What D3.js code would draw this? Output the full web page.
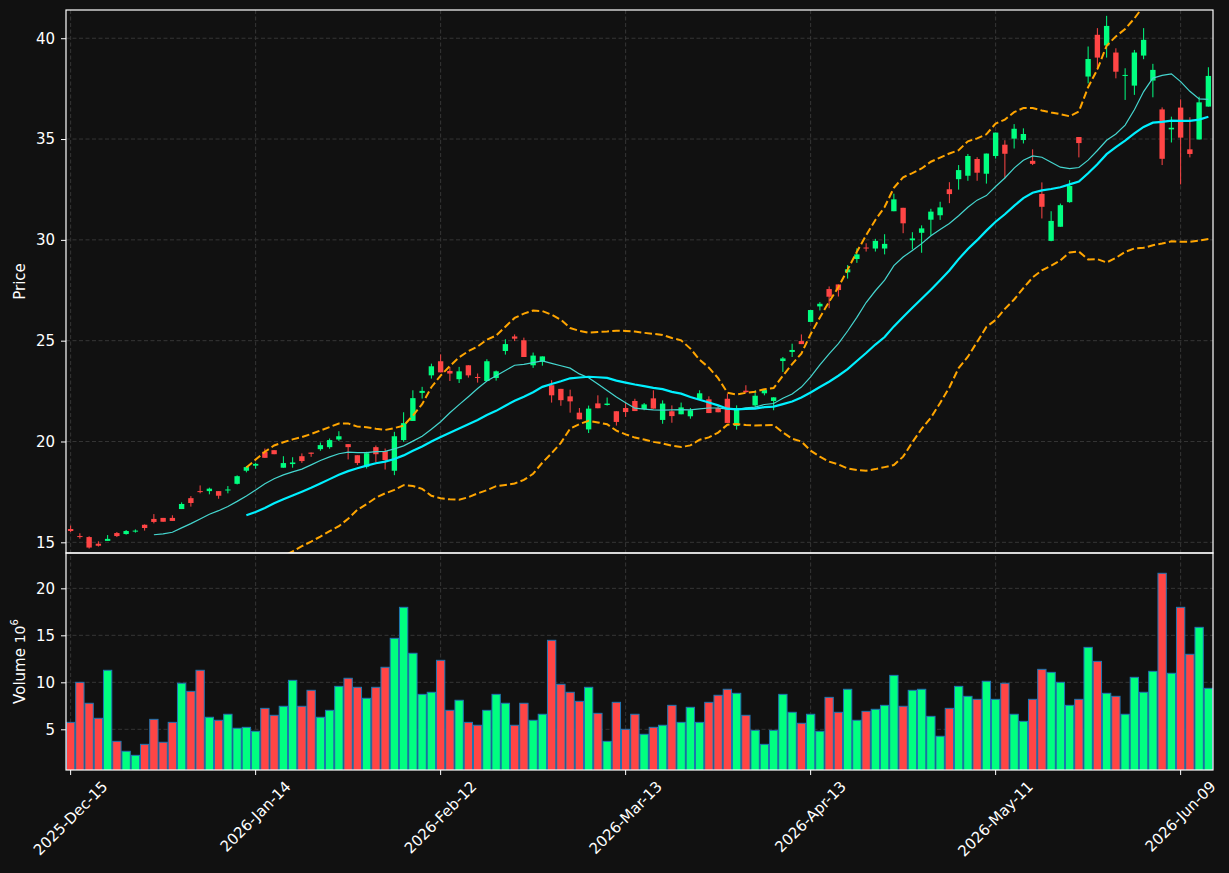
<!DOCTYPE html>
<html>
<head>
<meta charset="utf-8">
<script src="https://cdn.jsdelivr.net/npm/d3@7"></script>
<style>
  body { margin: 0; background: #111111; }
  text { font-family: "DejaVu Sans", sans-serif; }
</style>
</head>
<body>
<div id="chart"></div>
<script>
// daily bars, index 0 = 2025-Dec-15
const opens = [15.66,15.31,15.26,14.93,15.07,15.46,15.41,15.53,15.87,16.16,16.21,16.21,16.65,17.19,17.54,17.54,17.54,17.57,17.90,18.55,
  18.80,19.49,19.57,18.70,18.88,19.27,19.45,19.62,19.72,20.10,19.87,19.32,18.75,19.72,19.52,18.55,20.07,21.02,22.41,23.28,
  23.98,23.50,23.09,23.78,23.20,23.00,23.15,24.49,25.21,25.02,23.78,23.96,22.79,22.61,22.24,21.43,20.60,21.89,21.81,21.50,
  21.66,22.01,21.61,22.14,21.07,21.50,21.35,21.25,22.09,22.09,21.66,22.12,20.77,22.52,21.79,22.39,22.01,23.99,24.44,24.98,
  25.93,26.70,27.56,27.79,28.39,29.05,29.62,29.57,29.57,31.42,31.59,29.98,30.35,31.00,31.22,32.51,33.01,33.18,34.01,33.28,
  34.16,34.72,35.02,34.95,33.92,32.28,29.95,30.65,31.87,35.10,38.10,40.17,39.64,39.29,38.13,37.65,39.14,37.90,36.47,35.48,
  36.56,34.49,34.98,36.61];
const highs = [15.83,15.45,15.30,15.05,15.36,15.51,15.61,15.64,15.89,16.40,16.21,16.34,16.98,17.29,17.82,17.71,17.54,17.79,18.32,18.78,
  18.94,19.65,19.57,19.27,19.22,19.41,19.45,19.95,20.15,20.51,19.87,19.32,19.49,19.80,19.65,20.48,21.45,22.54,22.71,23.86,
  24.32,23.70,23.70,23.78,23.37,24.08,23.52,25.07,25.31,25.15,24.41,24.22,23.04,22.61,22.57,21.66,21.78,22.29,22.18,21.50,
  21.91,22.12,21.91,22.54,22.04,21.79,21.93,21.66,22.54,22.24,21.79,22.37,21.79,22.79,22.54,22.55,22.19,24.19,24.85,25.31,
  26.52,26.91,27.69,27.79,28.75,29.58,29.83,30.05,30.28,32.29,31.59,30.38,30.72,31.54,31.89,32.86,33.71,34.26,34.10,34.28,
  35.32,34.94,35.74,35.53,34.49,32.85,31.42,31.80,32.96,35.10,39.59,40.50,41.11,39.50,38.51,39.42,40.50,38.73,36.57,36.11,
  36.97,36.08,37.10,38.56];
const lows = [15.51,15.18,14.69,14.79,15.07,15.26,15.38,15.48,15.58,15.94,16.02,16.06,16.65,16.77,17.43,17.38,17.16,17.43,17.87,18.47,
  18.65,19.19,19.37,18.70,18.70,18.94,19.24,19.54,19.64,20.03,19.11,18.83,18.66,18.98,18.61,18.33,19.98,21.02,22.13,23.12,
  23.43,23.00,22.90,23.17,22.92,23.00,23.02,24.31,24.98,24.19,23.65,23.76,21.93,21.77,21.43,21.10,20.42,21.65,21.78,20.79,
  21.22,21.51,21.55,21.63,20.88,20.93,21.35,21.13,22.09,21.41,21.45,20.92,20.59,22.40,21.71,22.29,21.55,23.45,24.19,24.83,
  25.93,26.50,26.61,27.19,28.08,28.86,29.42,29.42,29.28,31.42,30.33,29.53,29.36,30.22,30.99,31.82,32.49,32.93,32.93,32.79,
  34.03,33.05,34.53,34.78,33.71,31.06,29.93,30.65,31.84,34.09,37.76,38.43,39.04,38.01,36.94,37.19,38.96,37.07,33.71,34.83,
  32.75,34.09,34.98,36.61];
const closes = [15.56,15.28,14.74,14.83,15.17,15.31,15.56,15.58,15.71,16.01,16.02,16.06,16.90,16.95,17.49,17.66,17.31,17.62,18.28,18.73,
  18.89,19.19,19.37,18.93,18.96,19.03,19.39,19.82,20.07,20.26,19.72,18.93,19.42,19.37,19.08,20.26,20.91,22.15,22.51,23.73,
  23.43,23.37,23.48,23.28,23.15,23.98,23.48,24.83,25.10,24.19,24.26,24.22,22.29,22.05,21.99,21.10,21.63,21.65,21.88,20.97,
  21.46,21.51,21.84,21.63,21.88,21.26,21.69,21.55,22.39,21.41,21.45,20.92,21.66,22.45,22.27,22.55,22.19,24.12,24.54,24.83,
  26.52,26.83,27.18,27.51,28.54,29.28,29.58,29.95,29.80,32.01,30.82,30.07,30.57,31.40,31.61,32.27,33.46,34.16,33.33,34.28,
  35.32,34.27,35.51,35.25,33.77,31.64,30.94,31.72,32.67,34.80,38.97,39.04,40.61,38.34,38.18,39.29,39.92,38.43,34.02,35.56,
  35.07,34.26,36.82,38.13];
// volume in millions
const volumes = [5.74,10.00,7.77,6.17,11.28,3.72,2.66,2.23,3.40,6.06,3.62,5.74,9.90,9.04,11.28,6.28,5.96,6.60,5.11,5.21,
  4.79,7.23,6.49,7.45,10.21,7.45,9.15,6.28,7.02,9.57,10.43,9.47,8.30,9.47,11.60,14.68,17.98,13.09,8.72,8.94,
  12.34,7.02,8.09,5.74,5.43,7.02,8.72,7.77,5.43,7.77,5.96,6.60,14.47,9.79,8.94,7.98,9.47,6.70,3.72,7.87,
  5.00,6.60,4.47,5.21,5.43,7.55,5.74,7.34,5.74,7.87,8.62,9.26,8.83,6.49,4.89,3.40,4.89,8.72,6.81,5.64,
  6.60,4.79,8.40,6.81,9.26,5.96,6.91,7.13,7.55,10.74,7.45,9.15,9.26,6.38,4.26,7.23,9.57,8.51,8.19,10.11,
  8.19,9.90,6.60,5.85,8.19,11.38,11.06,10.00,7.55,8.19,13.72,12.23,8.83,8.51,6.60,10.53,8.94,11.17,21.60,10.96,
  17.98,12.98,15.85,9.36];

const tickIdx = [0, 20, 40, 60, 80, 100, 120];
const tickLabels = ["2025-Dec-15", "2026-Jan-14", "2026-Feb-12", "2026-Mar-13", "2026-Apr-13", "2026-May-11", "2026-Jun-09"];
const priceTicks = [15, 20, 25, 30, 35, 40];
const volTicks = [5, 10, 15, 20];

const W = 1229, H = 873;
const padL = 66, padR = 1213, padT = 10, midY = 553, padB = 770;
const upColor = "#00ff80", downColor = "#ff4545";
const fs = 15;

const n = closes.length;
const bars = d3.range(n).map(i => ({
    i: i, o: opens[i], h: highs[i], l: lows[i], c: closes[i], v: volumes[i]
}));

// rolling mean / bollinger from closes
function rolling(win, fn) {
    const out = [];
    for (let i = win - 1; i < n; i++) {
        out.push({i: i, v: fn(closes.slice(i - win + 1, i + 1))});
    }
    return out;
}
const ma10 = rolling(10, a => d3.mean(a));
const ma20 = rolling(20, a => d3.mean(a));
const bbUp = rolling(20, a => d3.mean(a) + 2 * d3.deviation(a));
const bbLo = rolling(20, a => d3.mean(a) - 2 * d3.deviation(a));

const svg = d3.select('#chart').append("svg")
    .attr("width", W)
    .attr("height", H);

svg.append("rect").attr("width", W).attr("height", H).attr("fill", "#111111");

const x = d3.scaleLinear().domain([-0.5, n - 0.5]).range([padL, padR]);
const yP = d3.scaleLinear().domain([14.47, 41.40]).range([midY, padT]);
const yV = d3.scaleLinear().domain([0.67, 23.76]).range([padB, midY]);
const step = x(1) - x(0);

const defs = svg.append("defs");
defs.append("clipPath").attr("id", "clipP").append("rect")
    .attr("x", padL).attr("y", padT).attr("width", padR - padL).attr("height", midY - padT);
defs.append("clipPath").attr("id", "clipV").append("rect")
    .attr("x", padL).attr("y", midY).attr("width", padR - padL).attr("height", padB - midY);

// grids
const grid = svg.append("g").attr("stroke", "#3a3a3a").attr("stroke-width", 0.9).attr("stroke-dasharray", "4,2.5");
tickIdx.forEach(t => {
    grid.append("line").attr("x1", x(t)).attr("x2", x(t)).attr("y1", padT).attr("y2", padB);
});
priceTicks.forEach(t => {
    grid.append("line").attr("x1", padL).attr("x2", padR).attr("y1", yP(t)).attr("y2", yP(t));
});
volTicks.forEach(t => {
    grid.append("line").attr("x1", padL).attr("x2", padR).attr("y1", yV(t)).attr("y2", yV(t));
});

// candles
const pg = svg.append("g").attr("clip-path", "url(#clipP)");
const col = d => d.c >= d.o ? upColor : downColor;
pg.selectAll("line.wick").data(bars).enter().append("line")
    .attr("class", "wick")
    .attr("x1", d => x(d.i)).attr("x2", d => x(d.i))
    .attr("y1", d => yP(d.h)).attr("y2", d => yP(d.l))
    .attr("stroke", col).attr("stroke-width", 1);
pg.selectAll("rect.body").data(bars).enter().append("rect")
    .attr("class", "body")
    .attr("x", d => x(d.i) - step * 0.29)
    .attr("width", step * 0.58)
    .attr("y", d => yP(Math.max(d.o, d.c)))
    .attr("height", d => Math.max(1, Math.abs(yP(d.o) - yP(d.c))))
    .attr("fill", col);

const line = d3.line().x(d => x(d.i)).y(d => yP(d.v));
pg.append("path").datum(ma10).attr("d", line)
    .attr("fill", "none").attr("stroke", "#45d6cf").attr("stroke-width", 1.2);
pg.append("path").datum(ma20).attr("d", line)
    .attr("fill", "none").attr("stroke", "#00f0ff").attr("stroke-width", 2.2);
[bbUp, bbLo].forEach(b => {
    pg.append("path").datum(b).attr("d", line)
        .attr("fill", "none").attr("stroke", "#ffa500").attr("stroke-width", 2)
        .attr("stroke-dasharray", "7.5,3.3");
});

// volume
const vg = svg.append("g").attr("clip-path", "url(#clipV)");
vg.selectAll("rect").data(bars).enter().append("rect")
    .attr("x", d => x(d.i) - step * 0.45)
    .attr("width", step * 0.9)
    .attr("y", d => yV(d.v))
    .attr("height", d => yV.range()[0] - yV(d.v) + 2)
    .attr("fill", col)
    .attr("stroke", "#1f77b4").attr("stroke-width", 1);

// spines
const sp = svg.append("g").attr("fill", "none").attr("stroke", "white").attr("stroke-width", 1.2);
sp.append("rect").attr("x", padL).attr("y", padT).attr("width", padR - padL).attr("height", midY - padT);
sp.append("rect").attr("x", padL).attr("y", midY).attr("width", padR - padL).attr("height", padB - midY);

// axes
function styleAxis(g) {
    g.select(".domain").remove();
    g.selectAll(".tick line").attr("stroke", "white").attr("stroke-width", 1);
    g.selectAll(".tick text").attr("fill", "white").attr("font-size", fs)
        .attr("font-family", "DejaVu Sans, sans-serif");
}
svg.append("g").attr("transform", `translate(${padL},0)`)
    .call(d3.axisLeft(yP).tickValues(priceTicks).tickSize(5).tickPadding(6).tickFormat(d3.format("d")))
    .call(styleAxis);
svg.append("g").attr("transform", `translate(${padL},0)`)
    .call(d3.axisLeft(yV).tickValues(volTicks).tickSize(5).tickPadding(6).tickFormat(d3.format("d")))
    .call(styleAxis);

const xg = svg.append("g");
tickIdx.forEach((t, k) => {
    xg.append("line").attr("x1", x(t)).attr("x2", x(t)).attr("y1", padB).attr("y2", padB + 5)
        .attr("stroke", "white").attr("stroke-width", 1);
    const txt = xg.append("text").text(tickLabels[k])
        .attr("fill", "white").attr("font-size", fs)
        .attr("text-anchor", "middle").attr("dominant-baseline", "central");
    const w = txt.node().getComputedTextLength();
    const h = (w + fs + 2) * Math.SQRT1_2;
    const cx = x(t), cy = padB + 8 + h / 2;
    txt.attr("x", cx).attr("y", cy).attr("transform", `rotate(-45,${cx},${cy})`);
});

// axis labels
svg.append("text").text("Price")
    .attr("transform", `translate(25,${(padT + midY) / 2}) rotate(-90)`)
    .attr("text-anchor", "middle").attr("fill", "white").attr("font-size", fs);
const vl = svg.append("text")
    .attr("transform", `translate(25,${(midY + padB) / 2}) rotate(-90)`)
    .attr("text-anchor", "middle").attr("fill", "white").attr("font-size", fs);
vl.append("tspan").text("Volume  ");
vl.append("tspan").text("10").attr("font-size", 14);
vl.append("tspan").text("6").attr("font-size", 10).attr("dy", -7);
</script>
</body>
</html>
